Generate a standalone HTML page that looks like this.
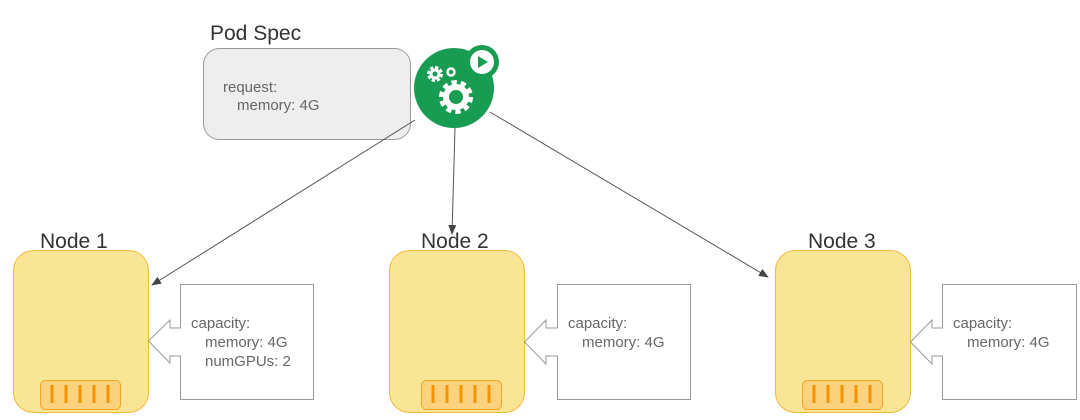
<!DOCTYPE html>
<html><head><meta charset="utf-8"><style>
body{margin:0;background:#fff;width:1080px;height:420px;overflow:hidden}
svg{display:block}
text{font-family:"Liberation Sans",sans-serif}
</style></head><body>
<svg width="1080" height="420" viewBox="0 0 1080 420">
<defs><marker id="a" markerWidth="10" markerHeight="8" refX="9" refY="4" orient="auto" markerUnits="userSpaceOnUse"><path d="M0,0 L10,4 L0,8z" fill="#444"/></marker></defs>
<text x="210" y="40" font-size="21" fill="#333">Pod Spec</text>
<rect x="203.5" y="48.5" width="207" height="91" rx="16" fill="#eeeeee" stroke="#999"/>
<text x="223" y="92" font-size="15" fill="#666">request:</text>
<text x="237" y="110" font-size="15" fill="#666">memory: 4G</text>
<line x1="415" y1="120" x2="152" y2="285" stroke="#555" stroke-width="1" marker-end="url(#a)"/>
<line x1="455" y1="128" x2="452" y2="234" stroke="#555" stroke-width="1" marker-end="url(#a)"/>
<line x1="490" y1="112" x2="768" y2="277" stroke="#555" stroke-width="1" marker-end="url(#a)"/>
<circle cx="454" cy="88" r="40" fill="#179c52"/>
<circle cx="482" cy="62" r="17" fill="#179c52"/>
<circle cx="482" cy="62" r="12" fill="#fff"/>
<path d="M478,56 L488,62 L478,68z" fill="#179c52"/>
<circle cx="456" cy="97" r="14" fill="none" stroke="#fff" stroke-width="6" stroke-dasharray="5 3.8"/>
<circle cx="456" cy="97" r="10" fill="none" stroke="#fff" stroke-width="6"/>
<circle cx="435" cy="74" r="6" fill="none" stroke="#fff" stroke-width="4" stroke-dasharray="3 1.7"/>
<circle cx="435" cy="74" r="4" fill="none" stroke="#fff" stroke-width="3"/>
<circle cx="451" cy="72" r="3.5" fill="none" stroke="#fff" stroke-width="2.5"/>
<!-- Node 1 -->
<text x="40" y="248" font-size="21" fill="#333">Node 1</text>
<rect x="13.5" y="250.5" width="135" height="162" rx="20" fill="#f9e596" stroke="#f5b93c"/>
<rect x="40.5" y="380.5" width="80" height="29" rx="5" fill="#fdd27e" stroke="#f5a623"/>
<g stroke="#f59300" stroke-width="3"><line x1="52" y1="385" x2="52" y2="403"/><line x1="66" y1="385" x2="66" y2="403"/><line x1="80" y1="385" x2="80" y2="403"/><line x1="94" y1="385" x2="94" y2="403"/><line x1="108" y1="385" x2="108" y2="403"/></g>
<path d="M180.5,284.5 H313.5 V399.5 H180.5 V356 H170 V363 L148.5,341 L170,320 V328 H180.5Z" fill="#fff" stroke="#999"/>
<text x="191" y="328" font-size="15" fill="#666">capacity:</text>
<text x="205" y="347" font-size="15" fill="#666">memory: 4G</text>
<text x="205" y="366" font-size="15" fill="#666">numGPUs: 2</text>
<!-- Node 2 -->
<text x="421" y="248" font-size="21" fill="#333">Node 2</text>
<rect x="389.5" y="250.5" width="135" height="162" rx="20" fill="#f9e596" stroke="#f5b93c"/>
<rect x="421.5" y="380.5" width="80" height="29" rx="5" fill="#fdd27e" stroke="#f5a623"/>
<g stroke="#f59300" stroke-width="3"><line x1="433" y1="385" x2="433" y2="403"/><line x1="447" y1="385" x2="447" y2="403"/><line x1="461" y1="385" x2="461" y2="403"/><line x1="475" y1="385" x2="475" y2="403"/><line x1="489" y1="385" x2="489" y2="403"/></g>
<path d="M557.5,284.5 H690.5 V399.5 H557.5 V356 H546 V364 L524.5,342 L546,320 V328 H557.5Z" fill="#fff" stroke="#999"/>
<text x="568" y="328" font-size="15" fill="#666">capacity:</text>
<text x="582" y="347" font-size="15" fill="#666">memory: 4G</text>
<!-- Node 3 -->
<text x="808" y="248" font-size="21" fill="#333">Node 3</text>
<rect x="775.5" y="250.5" width="135" height="162" rx="20" fill="#f9e596" stroke="#f5b93c"/>
<rect x="802.5" y="380.5" width="80" height="29" rx="5" fill="#fdd27e" stroke="#f5a623"/>
<g stroke="#f59300" stroke-width="3"><line x1="814" y1="385" x2="814" y2="403"/><line x1="828" y1="385" x2="828" y2="403"/><line x1="842" y1="385" x2="842" y2="403"/><line x1="856" y1="385" x2="856" y2="403"/><line x1="870" y1="385" x2="870" y2="403"/></g>
<path d="M942.5,284.5 H1076.5 V399.5 H942.5 V356 H932 V364 L910.5,342 L932,320 V328 H942.5Z" fill="#fff" stroke="#999"/>
<text x="953" y="328" font-size="15" fill="#666">capacity:</text>
<text x="967" y="347" font-size="15" fill="#666">memory: 4G</text>
</svg>
</body></html>
